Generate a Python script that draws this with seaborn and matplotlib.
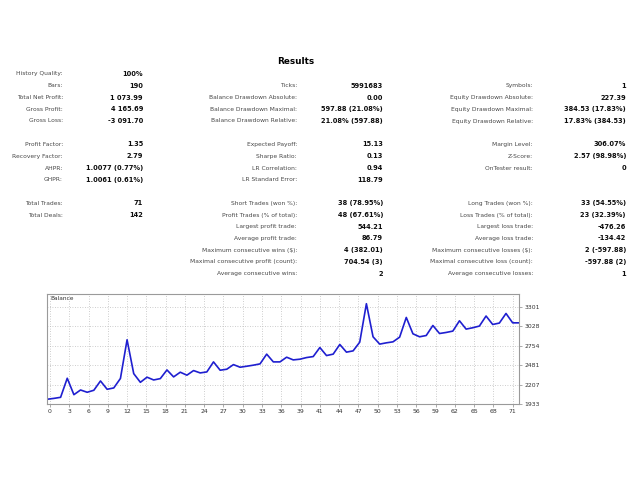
import numpy as np
import pandas as pd
import matplotlib
matplotlib.use("Agg")
import matplotlib.pyplot as plt
import seaborn as sns

# ---------------- data ----------------
title = "Results"

col1_labels = ["History Quality:", "Bars:", "Total Net Profit:", "Gross Profit:", "Gross Loss:", "",
               "Profit Factor:", "Recovery Factor:", "AHPR:", "GHPR:", "",
               "Total Trades:", "Total Deals:"]
col1_values = ["100%", "190", "1 073.99", "4 165.69", "-3 091.70", "",
               "1.35", "2.79", "1.0077 (0.77%)", "1.0061 (0.61%)", "",
               "71", "142"]

col2_labels = ["", "Ticks:", "Balance Drawdown Absolute:", "Balance Drawdown Maximal:", "Balance Drawdown Relative:", "",
               "Expected Payoff:", "Sharpe Ratio:", "LR Correlation:", "LR Standard Error:", "",
               "Short Trades (won %):", "Profit Trades (% of total):", "Largest profit trade:",
               "Average profit trade:", "Maximum consecutive wins ($):",
               "Maximal consecutive profit (count):", "Average consecutive wins:"]
col2_values = ["", "5991683", "0.00", "597.88 (21.08%)", "21.08% (597.88)", "",
               "15.13", "0.13", "0.94", "118.79", "",
               "38 (78.95%)", "48 (67.61%)", "544.21", "86.79", "4 (382.01)", "704.54 (3)", "2"]

col3_labels = ["", "Symbols:", "Equity Drawdown Absolute:", "Equity Drawdown Maximal:", "Equity Drawdown Relative:", "",
               "Margin Level:", "Z-Score:", "OnTester result:", "", "",
               "Long Trades (won %):", "Loss Trades (% of total):", "Largest loss trade:",
               "Average loss trade:", "Maximum consecutive losses ($):",
               "Maximal consecutive loss (count):", "Average consecutive losses:"]
col3_values = ["", "1", "227.39", "384.53 (17.83%)", "17.83% (384.53)", "",
               "306.07%", "2.57 (98.98%)", "0", "", "",
               "33 (54.55%)", "23 (32.39%)", "-476.26", "-134.42", "2 (-597.88)", "-597.88 (2)", "1"]

balance = [2000, 2012, 2027, 2295, 2064, 2130, 2098, 2126, 2257, 2140,
           2159, 2292, 2836, 2360, 2238, 2310, 2271, 2290, 2412, 2314,
           2380, 2338, 2403, 2370, 2384, 2525, 2408, 2422, 2487, 2450,
           2464, 2479, 2497, 2634, 2525, 2525, 2591, 2553, 2563, 2586,
           2600, 2727, 2614, 2634, 2770, 2662, 2680, 2803, 3343, 2878,
           2775, 2793, 2807, 2873, 3150, 2920, 2878, 2896, 3037, 2924,
           2939, 2958, 3103, 2986, 3005, 3029, 3170, 3051, 3071, 3206,
           3074, 3074]
trades = list(range(len(balance)))

x_tick_labels = ["0", "3", "6", "9", "12", "15", "18", "21", "24", "27", "30", "33", "36",
                 "39", "41", "44", "47", "50", "53", "56", "59", "62", "65", "68", "71"]
y_tick_labels = ["1933", "2207", "2481", "2754", "3028", "3301"]
chart_label = "Balance"

# ---------------- figure ----------------
sns.set_theme(style="white")
plt.rcParams["font.family"] = ["DejaVu Sans"]

W, H = 640, 480
fig = plt.figure(figsize=(W / 100, H / 100), dpi=100)
fig.patch.set_facecolor("white")

def px(x, y):
    return x / W, 1 - y / H

label_color = "#474747"
value_color = "#0d0d0d"
lab_fs = 4.3
val_fs = 4.8

fig.text(*px(296, 61.5), title, ha="center", va="center", fontsize=6.4,
         fontweight="bold", color="#000000")

row_y0, row_dy = 74.0, 11.75
columns = [
    (col1_labels, col1_values, 63, 143),
    (col2_labels, col2_values, 297, 383),
    (col3_labels, col3_values, 533, 626),
]
for labels, values, lx, vx in columns:
    for r, (lab, val) in enumerate(zip(labels, values)):
        y = row_y0 + r * row_dy
        if lab:
            fig.text(*px(lx, y), lab, ha="right", va="center", fontsize=lab_fs, color=label_color)
        if val:
            fig.text(*px(vx, y), val, ha="right", va="center", fontsize=val_fs,
                     fontweight="bold", color=value_color)

# chart
left, right, top, bottom = 47.3, 519.3, 294, 404
ax = fig.add_axes([left / W, 1 - bottom / H, (right - left) / W, (bottom - top) / H])
df = pd.DataFrame({"trade": trades, "balance": balance})
sns.lineplot(data=df, x="trade", y="balance", ax=ax, color="#1f1fd0", linewidth=1.2)

ymin = float(y_tick_labels[0])
ymax_tick = float(y_tick_labels[-1])
ystep = (ymax_tick - ymin) / (len(y_tick_labels) - 1)
ax.set_ylim(ymin, ymin + ystep * (bottom - top) / 19.46)
ax.set_xlim(trades[0], trades[-1])
ax.set_yticks(np.linspace(ymin, ymax_tick, len(y_tick_labels)))
ax.set_yticklabels(y_tick_labels)
ax.set_xticks(np.linspace(0.4, 70.0, len(x_tick_labels)))
ax.set_xticklabels(x_tick_labels)
ax.yaxis.tick_right()
ax.tick_params(axis="both", labelsize=4.4, labelcolor="#333333", length=2, width=0.5,
               color="#888888", pad=1.5)
ax.tick_params(axis="y", direction="out", right=True, left=False)
ax.tick_params(axis="x", direction="out", bottom=True)
ax.set_xlabel("")
ax.set_ylabel("")
ax.grid(True, color="#bdbdbd", linestyle=(0, (1, 2)), linewidth=0.6)
for s in ax.spines.values():
    s.set_color("#9a9a9a")
    s.set_linewidth(0.8)
ax.text(0.006, 0.985, chart_label, transform=ax.transAxes, ha="left", va="top",
        fontsize=4.2, color="#333333")

fig.savefig("out.png", dpi=100, facecolor="white")
